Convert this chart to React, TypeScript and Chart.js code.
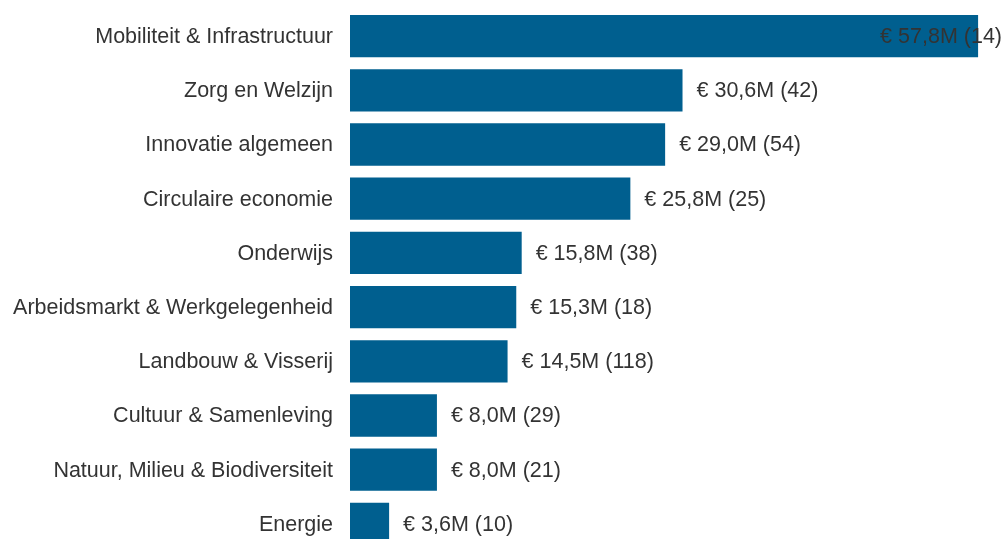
import React, { useEffect, useRef } from "react";
import { Chart, registerables } from "chart.js";

Chart.register(...registerables);

const categories = [
  "Mobiliteit & Infrastructuur",
  "Zorg en Welzijn",
  "Innovatie algemeen",
  "Circulaire economie",
  "Onderwijs",
  "Arbeidsmarkt & Werkgelegenheid",
  "Landbouw & Visserij",
  "Cultuur & Samenleving",
  "Natuur, Milieu & Biodiversiteit",
  "Energie",
];
const amounts = [57.8, 30.6, 29.0, 25.8, 15.8, 15.3, 14.5, 8.0, 8.0, 3.6];
const counts = [14, 42, 54, 25, 38, 18, 118, 29, 21, 10];

const FONT = "Arial, 'Liberation Sans', sans-serif";
const TEXT = "#333333";
const BAR = "#005f8f";

const fmt = (v: number, n: number) =>
  "€ " + v.toFixed(1).replace(".", ",") + "M (" + n + ")";

const labelsPlugin = {
  id: "labelsPlugin",
  afterDatasetsDraw(chart: any) {
    const ctx = chart.ctx;
    const meta = chart.getDatasetMeta(0);
    const left = chart.chartArea.left;
    ctx.save();
    ctx.font = "21.5px " + FONT;
    ctx.fillStyle = TEXT;
    ctx.textBaseline = "middle";
    meta.data.forEach((bar: any, i: number) => {
      ctx.textAlign = "right";
      ctx.fillText(categories[i], left - 17, bar.y + 1);
      ctx.textAlign = "left";
      const txt = fmt(amounts[i], counts[i]);
      const w = ctx.measureText(txt).width;
      let x = bar.x + 14;
      if (x + w > chart.width - 1) x = chart.width - 1 - w;
      ctx.fillText(txt, x, bar.y + 1);
    });
    ctx.restore();
  },
};

export default function App() {
  const ref = useRef<HTMLCanvasElement>(null);
  useEffect(() => {
    const chart = new Chart(ref.current!, {
      type: "bar",
      data: {
        labels: categories,
        datasets: [
          {
            data: amounts,
            backgroundColor: BAR,
            borderWidth: 0,
            categoryPercentage: 1,
            barPercentage: 0.78,
          },
        ],
      },
      options: {
        indexAxis: "y",
        animation: false,
        responsive: false,
        maintainAspectRatio: false,
        layout: { padding: { top: 9, bottom: 9, left: 350, right: 1 } },
        plugins: { legend: { display: false }, tooltip: { enabled: false } },
        scales: {
          x: { display: false, min: 0, max: 60 },
          y: { display: false },
        },
      },
      plugins: [labelsPlugin],
    });
    return () => chart.destroy();
  }, []);
  return (
    <div
      style={{
        position: "fixed",
        left: 0,
        top: 0,
        width: 1003,
        height: 539,
        overflow: "hidden",
        background: "#fff",
      }}
    >
      <canvas ref={ref} width={1003} height={560} style={{ display: "block" }} />
    </div>
  );
}
